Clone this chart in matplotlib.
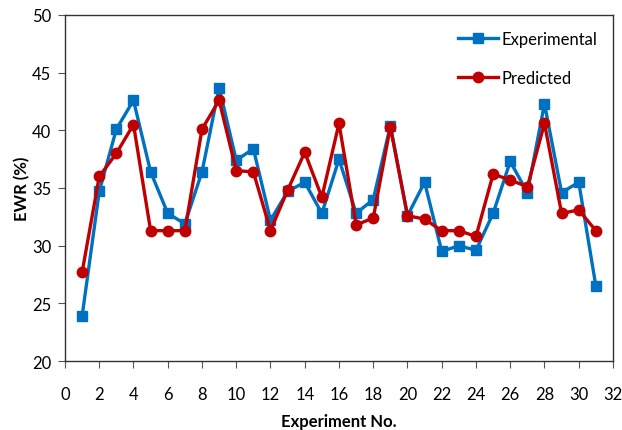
import numpy as np
import matplotlib.pyplot as plt

plt.rcParams['font.family'] = ['Lato', 'DejaVu Sans']

experiment = np.arange(1, 32)
experimental = [23.9, 34.7, 40.1, 42.6, 36.4, 32.8, 31.9, 36.4, 43.7, 37.4, 38.4,
                32.2, 34.7, 35.5, 32.8, 37.5, 32.8, 34.0, 40.4, 32.6, 35.5,
                29.5, 30.0, 29.6, 32.8, 37.3, 34.6, 42.3, 34.6, 35.5, 26.5]
predicted = [27.7, 36.0, 38.0, 40.5, 31.3, 31.3, 31.3, 40.1, 42.6, 36.5, 36.4,
             31.3, 34.8, 38.1, 34.2, 40.6, 31.8, 32.4, 40.3, 32.6, 32.3,
             31.3, 31.3, 30.8, 36.2, 35.7, 35.1, 40.6, 32.8, 33.1, 31.3]

fig = plt.figure(figsize=(6.22, 4.31), dpi=100)
ax = fig.add_axes([0.1045, 0.160, 0.881, 0.803])

ax.plot(experiment, experimental, color='#0070C0', lw=2.4, marker='s', ms=7,
        label='Experimental', zorder=3)
ax.plot(experiment, predicted, color='#C00000', lw=2.4, marker='o', ms=7.5,
        label='Predicted', zorder=4)

ax.set_xlim(0, 32)
ax.set_ylim(20, 50)
ax.set_xticks(range(0, 33, 2))
ax.set_yticks(range(20, 51, 5))
ax.tick_params(axis='x', direction='out', length=5, pad=13, labelsize=12, color='#555555')
ax.tick_params(axis='y', direction='out', length=5, pad=5, labelsize=12, color='#555555')
for s in ax.spines.values():
    s.set_color('#333333')
    s.set_linewidth(1.0)

ax.set_xlabel('Experiment No.', fontsize=12, fontweight='bold', labelpad=8)
ax.set_ylabel('EWR (%)', fontsize=12, fontweight='bold', labelpad=1)

ax.legend(loc='upper right', frameon=False, fontsize=12, handlelength=2.4,
          labelspacing=1.4, handletextpad=0.2, borderaxespad=0.55)

fig.savefig('out.png', dpi=100)
